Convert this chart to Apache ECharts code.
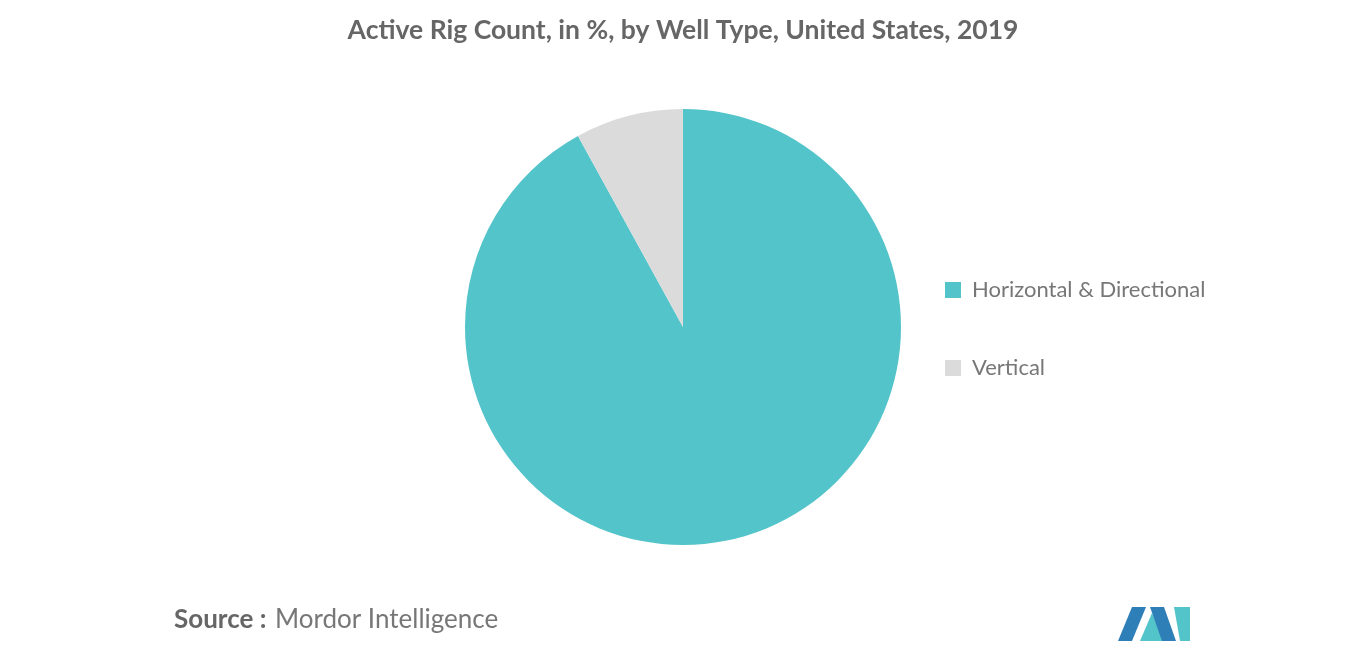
<!DOCTYPE html>
<html><head><meta charset="utf-8">
<script src="https://cdn.jsdelivr.net/npm/echarts@6/dist/echarts.min.js"></script>
<style>html,body{margin:0;padding:0;background:#fff}#c{width:1366px;height:655px}</style>
</head><body><div id="c"></div>
<script>
const categories = ["Horizontal & Directional", "Vertical"];
const values = [92, 8];
const colors = ["#53C4CA", "#DBDBDB"];
const chart = echarts.init(document.getElementById('c'));
chart.setOption({
  animation: false,
  title: {text: "Active Rig Count, in %, by Well Type, United States, 2019", left: 'center', top: 12,
    textStyle: {fontFamily: 'Lato', fontSize: 26.5, fontWeight: 'bold', color: '#666'}},
  legend: {orient: 'vertical', left: 940, top: 274, itemGap: 56, itemWidth: 16, itemHeight: 16, icon: 'rect',
    textStyle: {fontFamily: 'Lato', fontSize: 22, color: '#777', padding: [0,0,0,6]}},
  series: [{type: 'pie', center: [683, 327], radius: [0, 218], startAngle: 90, label: {show: false},
    labelLine: {show: false},
    data: categories.map((n, i) => ({name: n, value: values[i], itemStyle: {color: colors[i]}}))}],
  graphic: [
    {type: 'text', left: 174, top: 607, style: {text: 'Source :', font: 'bold 26px Lato', fill: '#666'}},
    {type: 'text', left: 275, top: 607, style: {text: 'Mordor Intelligence', font: '26px Lato', fill: '#777'}},
    {type: 'polygon', shape: {points: [[1118,641],[1132,607],[1146,607],[1132,641]]}, style: {fill: '#2E7FB8'}},
    {type: 'polygon', shape: {points: [[1140,641],[1152,613],[1164,641]]}, style: {fill: '#53C4CA'}},
    {type: 'polygon', shape: {points: [[1150,607],[1164,607],[1176,641],[1162,641]]}, style: {fill: '#2E7FB8'}},
    {type: 'polygon', shape: {points: [[1174,607],[1190,607],[1190,641],[1180,641]]}, style: {fill: '#53C4CA'}}
  ]
});
</script></body></html>
